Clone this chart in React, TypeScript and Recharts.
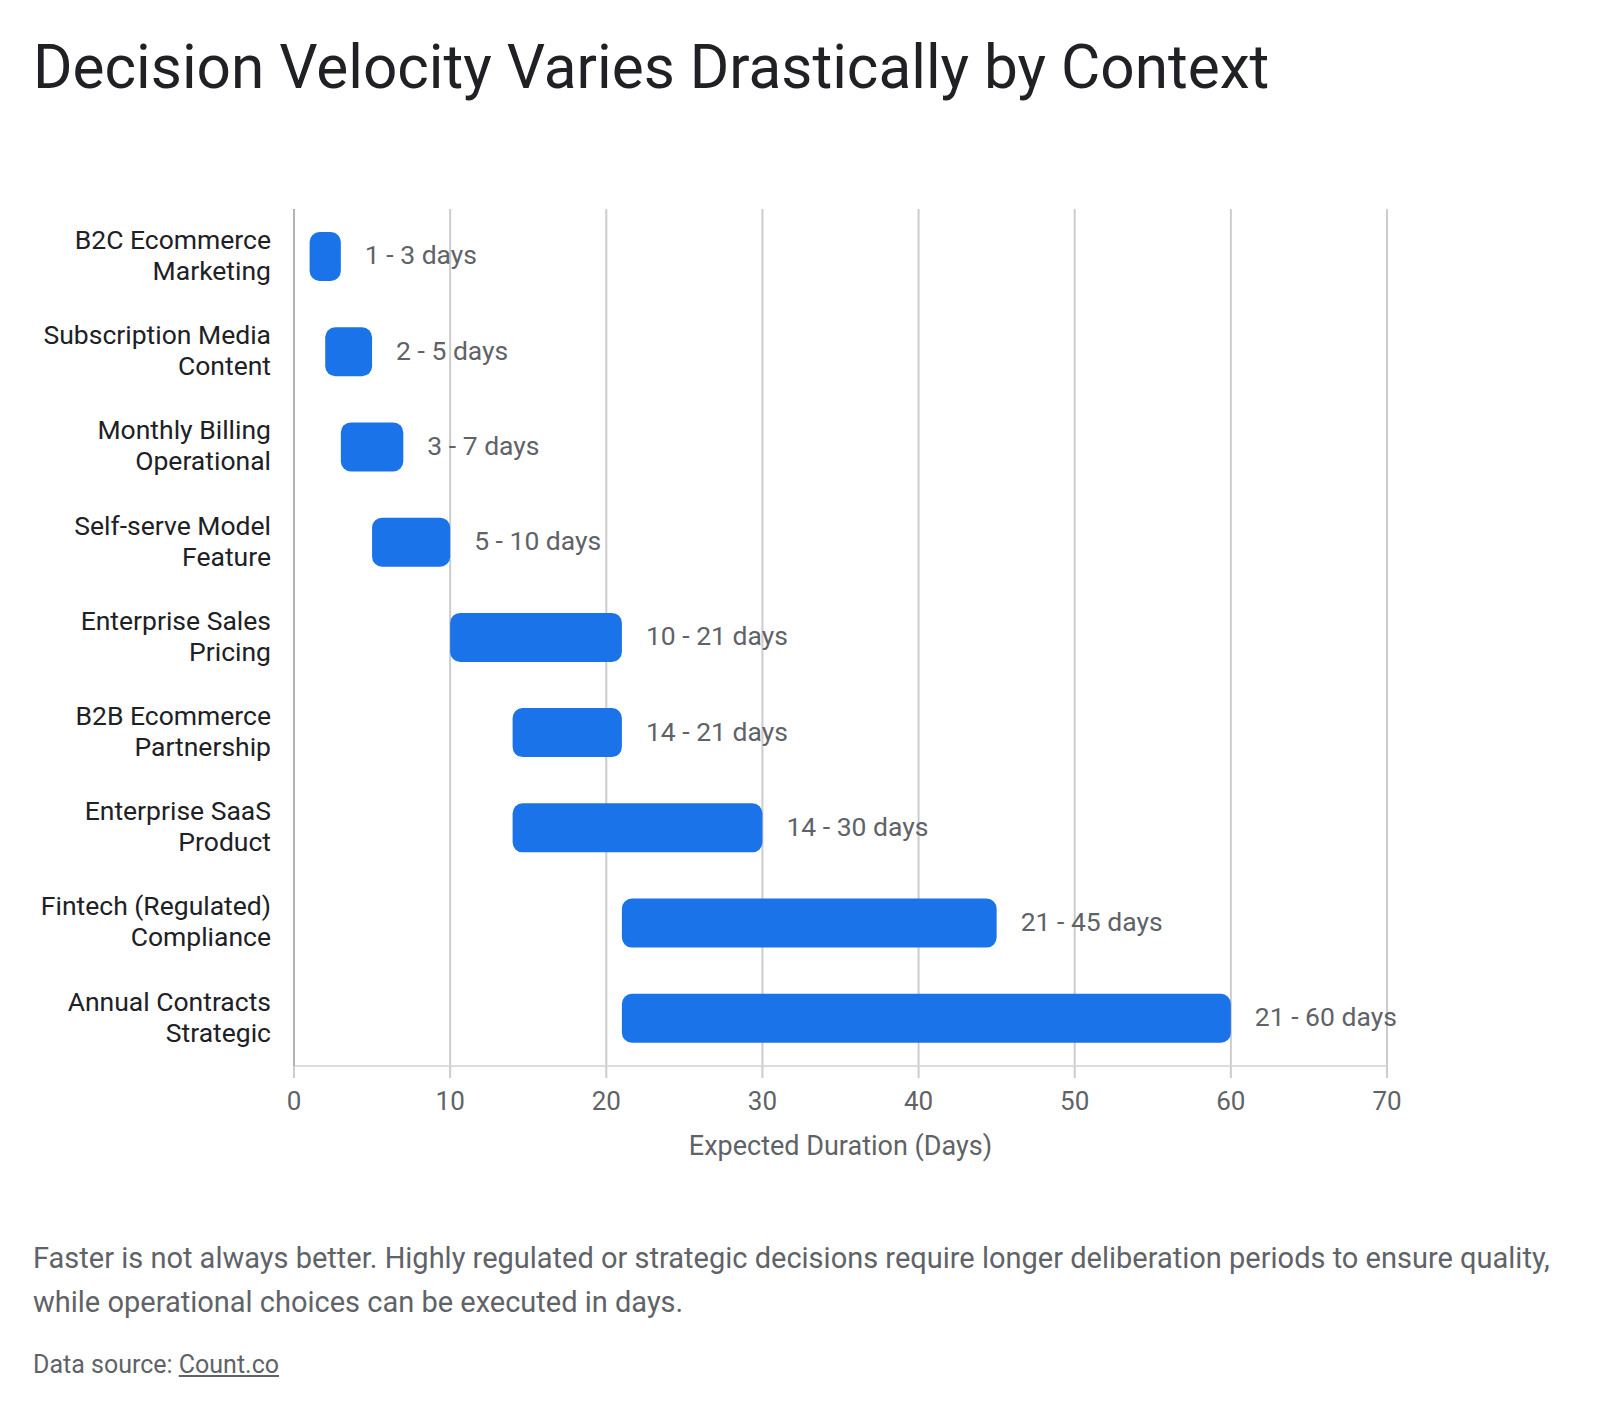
import { Bar, BarChart, CartesianGrid, LabelList, XAxis, YAxis } from "recharts";

const contexts = [
  "B2C Ecommerce",
  "Subscription Media",
  "Monthly Billing",
  "Self-serve Model",
  "Enterprise Sales",
  "B2B Ecommerce",
  "Enterprise SaaS",
  "Fintech (Regulated)",
  "Annual Contracts",
];
const decisionTypes = [
  "Marketing",
  "Content",
  "Operational",
  "Feature",
  "Pricing",
  "Partnership",
  "Product",
  "Compliance",
  "Strategic",
];
const minDays = [1, 2, 3, 5, 10, 14, 14, 21, 21];
const maxDays = [3, 5, 7, 10, 21, 21, 30, 45, 60];
const xTicks = [0, 10, 20, 30, 40, 50, 60, 70];

// stacked: transparent offset bar + visible span bar
const data = contexts.map((c, i) => ({
  name: c + "|" + decisionTypes[i],
  start: minDays[i],
  span: maxDays[i] - minDays[i],
  label: `${minDays[i]} - ${maxDays[i]} days`,
}));

const FONT = "Roboto, 'Noto Sans', sans-serif";
const BLUE = "#1a73e8";
const GRAY = "#5f6368";

function CategoryTick(props: any) {
  const { x, y, payload } = props;
  const [a, b] = String(payload.value).split("|");
  return (
    <text x={x} y={y} textAnchor="end" fontSize={26.5} fontFamily={FONT} fill="#202124">
      <tspan x={x} y={y - 17} dy="0.35em">
        {a}
      </tspan>
      <tspan x={x} y={y + 14} dy="0.35em">
        {b}
      </tspan>
    </text>
  );
}

function RangeLabel(props: any) {
  const { x, y, width, height, value } = props;
  return (
    <text
      x={Number(x) + Number(width) + 24}
      y={Number(y) + Number(height) / 2}
      dy="0.3em"
      fontSize={26.5}
      fontFamily={FONT}
      fill={GRAY}
    >
      {value}
    </text>
  );
}

export default function App() {
  return (
    <div
      style={{
        position: "absolute",
        left: 0,
        top: 0,
        width: 1600,
        height: 1414,
        background: "#fff",
        fontFamily: FONT,
      }}
    >
      <div
        style={{
          position: "absolute",
          left: 33,
          top: 28,
          fontSize: 60.3,
          color: "#202124",
          whiteSpace: "nowrap",
          lineHeight: "80px",
        }}
      >
        Decision Velocity Varies Drastically by Context
      </div>

      <div style={{ position: "absolute", left: 0, top: 0 }}>
        <BarChart
          width={1600}
          height={1200}
          data={data}
          layout="vertical"
          margin={{ top: 209, right: 213, bottom: 34, left: 14 }}
          barSize={49}
        >
          <CartesianGrid horizontal={false} stroke="#cccccc" strokeWidth={2} />
          <XAxis
            type="number"
            domain={[0, 70]}
            ticks={xTicks}
            height={100}
            tickSize={12}
            tickMargin={14}
            stroke="#dddddd"
            strokeWidth={2}
            tickLine={{ stroke: "#cccccc", strokeWidth: 2 }}
            tick={{ fontSize: 26, fill: GRAY, fontFamily: FONT }}
            label={{
              value: "Expected Duration (Days)",
              position: "insideBottom",
              offset: 11,
              fontSize: 27,
              fill: GRAY,
              fontFamily: FONT,
            }}
          />
          <YAxis
            type="category"
            dataKey="name"
            width={280}
            tickSize={0}
            tickMargin={23}
            axisLine={{ stroke: "#b3b3b3", strokeWidth: 2 }}
            tickLine={false}
            tick={CategoryTick}
            interval={0}
          />
          <Bar dataKey="start" stackId="r" fill="transparent" isAnimationActive={false} />
          <Bar
            dataKey="span"
            stackId="r"
            fill={BLUE}
            radius={[10, 10, 10, 10]}
            isAnimationActive={false}
          >
            <LabelList dataKey="label" content={RangeLabel} />
          </Bar>
        </BarChart>
      </div>

      <div
        style={{
          position: "absolute",
          left: 33,
          top: 1236,
          width: 1560,
          fontSize: 29,
          lineHeight: "44px",
          color: GRAY,
        }}
      >
        Faster is not always better. Highly regulated or strategic decisions require longer
        deliberation periods to ensure quality, while operational choices can be executed in days.
      </div>
      <div
        style={{
          position: "absolute",
          left: 33,
          top: 1350,
          fontSize: 25,
          lineHeight: "30px",
          color: GRAY,
        }}
      >
        Data source: <span style={{ textDecoration: "underline" }}>Count.co</span>
      </div>
    </div>
  );
}
